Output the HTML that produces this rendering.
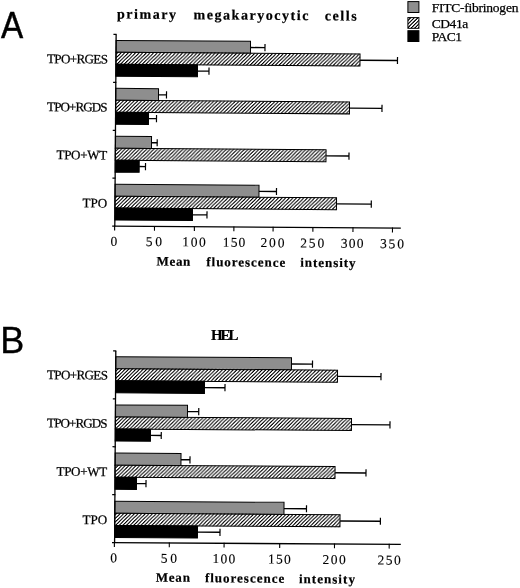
<!DOCTYPE html>
<html><head><meta charset="utf-8"><title>Figure</title>
<style>
html,body{margin:0;padding:0;background:#fff;}
svg{display:block;}
text{fill:#000;}
</style></head>
<body>
<svg width="520" height="588" viewBox="0 0 520 588">
<defs>
<pattern id="hatch" patternUnits="userSpaceOnUse" width="3.6" height="3.6">
<rect width="3.6" height="3.6" fill="#fff"/>
<path d="M-0.9 0.9L0.9 -0.9M0 3.6L3.6 0M2.7 4.5L4.5 2.7" stroke="#000" stroke-width="1.15"/>
</pattern>
<filter id="crisp" x="0" y="0" width="100%" height="100%" color-interpolation-filters="sRGB">
<feComponentTransfer><feFuncR type="linear" slope="2.1" intercept="-0.5"/><feFuncG type="linear" slope="2.1" intercept="-0.5"/><feFuncB type="linear" slope="2.1" intercept="-0.5"/></feComponentTransfer>
</filter>
</defs>
<rect width="520" height="588" fill="#fff"/>
<g transform="rotate(0.4 114.8 226.15)">
<path d="M249.24 46.58H263.74" stroke="#000" stroke-width="1.35" fill="none"/><path d="M263.74 42.98V50.18" stroke="#000" stroke-width="1.2" fill="none"/>
<rect x="114.80" y="40.40" width="134.44" height="11.95" fill="#8e8e8e" stroke="#000" stroke-width="1"/>
<path d="M358.82 58.52H396.32" stroke="#000" stroke-width="1.35" fill="none"/><path d="M396.32 54.92V62.12" stroke="#000" stroke-width="1.2" fill="none"/>
<rect x="114.80" y="52.35" width="244.02" height="11.95" fill="url(#hatch)" filter="url(#crisp)"/><rect x="114.80" y="52.35" width="244.02" height="11.95" fill="none" stroke="#000" stroke-width="1"/>
<path d="M196.41 70.48H207.91" stroke="#000" stroke-width="1.35" fill="none"/><path d="M207.91 66.88V74.08" stroke="#000" stroke-width="1.2" fill="none"/>
<rect x="114.80" y="64.30" width="81.61" height="11.95" fill="#000" stroke="#000" stroke-width="1"/>
<text x="45.76" y="63.58" font-family='"Liberation Serif", serif' font-size="13" font-weight="normal" text-anchor="start" stroke="#000" stroke-width="0.25" letter-spacing="-0.589">TPO+RGES</text>
<path d="M157.58 94.51H165.58" stroke="#000" stroke-width="1.35" fill="none"/><path d="M165.58 90.91V98.11" stroke="#000" stroke-width="1.2" fill="none"/>
<rect x="114.80" y="88.34" width="42.78" height="11.95" fill="#8e8e8e" stroke="#000" stroke-width="1"/>
<path d="M348.66 106.46H381.16" stroke="#000" stroke-width="1.35" fill="none"/><path d="M381.16 102.86V110.06" stroke="#000" stroke-width="1.2" fill="none"/>
<rect x="114.80" y="100.29" width="233.86" height="11.95" fill="url(#hatch)" filter="url(#crisp)"/><rect x="114.80" y="100.29" width="233.86" height="11.95" fill="none" stroke="#000" stroke-width="1"/>
<path d="M147.75 118.41H155.75" stroke="#000" stroke-width="1.35" fill="none"/><path d="M155.75 114.81V122.01" stroke="#000" stroke-width="1.2" fill="none"/>
<rect x="114.80" y="112.24" width="32.95" height="11.95" fill="#000" stroke="#000" stroke-width="1"/>
<text x="46.30" y="111.58" font-family='"Liberation Serif", serif' font-size="13" font-weight="normal" text-anchor="start" stroke="#000" stroke-width="0.25" letter-spacing="-0.883">TPO+RGDS</text>
<path d="M150.91 142.45H156.61" stroke="#000" stroke-width="1.35" fill="none"/><path d="M156.61 138.85V146.05" stroke="#000" stroke-width="1.2" fill="none"/>
<rect x="114.80" y="136.28" width="36.11" height="11.95" fill="#8e8e8e" stroke="#000" stroke-width="1"/>
<path d="M325.49 154.40H348.49" stroke="#000" stroke-width="1.35" fill="none"/><path d="M348.49 150.80V158.00" stroke="#000" stroke-width="1.2" fill="none"/>
<rect x="114.80" y="148.22" width="210.69" height="11.95" fill="url(#hatch)" filter="url(#crisp)"/><rect x="114.80" y="148.22" width="210.69" height="11.95" fill="none" stroke="#000" stroke-width="1"/>
<path d="M138.78 166.35H145.08" stroke="#000" stroke-width="1.35" fill="none"/><path d="M145.08 162.75V169.95" stroke="#000" stroke-width="1.2" fill="none"/>
<rect x="114.80" y="160.18" width="23.98" height="11.95" fill="#000" stroke="#000" stroke-width="1"/>
<text x="56.13" y="159.51" font-family='"Liberation Serif", serif' font-size="13" font-weight="normal" text-anchor="start" stroke="#000" stroke-width="0.25" letter-spacing="-0.322">TPO+WT</text>
<path d="M258.75 190.39H276.24" stroke="#000" stroke-width="1.35" fill="none"/><path d="M276.24 186.79V193.99" stroke="#000" stroke-width="1.2" fill="none"/>
<rect x="114.80" y="184.21" width="143.95" height="11.95" fill="#8e8e8e" stroke="#000" stroke-width="1"/>
<path d="M336.33 202.34H371.13" stroke="#000" stroke-width="1.35" fill="none"/><path d="M371.13 198.74V205.94" stroke="#000" stroke-width="1.2" fill="none"/>
<rect x="114.80" y="196.16" width="221.53" height="11.95" fill="url(#hatch)" filter="url(#crisp)"/><rect x="114.80" y="196.16" width="221.53" height="11.95" fill="none" stroke="#000" stroke-width="1"/>
<path d="M192.41 214.29H206.91" stroke="#000" stroke-width="1.35" fill="none"/><path d="M206.91 210.69V217.89" stroke="#000" stroke-width="1.2" fill="none"/>
<rect x="114.80" y="208.11" width="77.61" height="11.95" fill="#000" stroke="#000" stroke-width="1"/>
<text x="82.37" y="207.53" font-family='"Liberation Serif", serif' font-size="13" font-weight="normal" text-anchor="start" stroke="#000" stroke-width="0.25" letter-spacing="0.019">TPO</text>
<path d="M114.80 34.40V226.15" stroke="#000" stroke-width="1.3" fill="none"/>
<path d="M112.20 226.15H400.81" stroke="#000" stroke-width="1.3" fill="none"/>
<path d="M112.10 34.40H115.30" stroke="#000" stroke-width="1.25"/>
<path d="M112.10 82.34H115.30" stroke="#000" stroke-width="1.25"/>
<path d="M112.10 130.28H115.30" stroke="#000" stroke-width="1.25"/>
<path d="M112.10 178.21H115.30" stroke="#000" stroke-width="1.25"/>
<path d="M114.65 225.65V230.45" stroke="#000" stroke-width="1.1"/>
<text x="113.95" y="245.75" font-family='"Liberation Serif", serif' font-size="13.5" font-weight="normal" text-anchor="middle" stroke="#000" stroke-width="0.12">0</text>
<path d="M154.50 225.65V230.45" stroke="#000" stroke-width="1.1"/>
<text x="145.90" y="245.82" font-family='"Liberation Serif", serif' font-size="13.5" font-weight="normal" text-anchor="start" stroke="#000" stroke-width="0.12" letter-spacing="2.700">50</text>
<path d="M194.40 225.65V230.45" stroke="#000" stroke-width="1.1"/>
<text x="182.40" y="245.89" font-family='"Liberation Serif", serif' font-size="13.5" font-weight="normal" text-anchor="start" stroke="#000" stroke-width="0.12" letter-spacing="1.675">100</text>
<path d="M233.90 225.65V230.45" stroke="#000" stroke-width="1.1"/>
<text x="222.90" y="245.96" font-family='"Liberation Serif", serif' font-size="13.5" font-weight="normal" text-anchor="start" stroke="#000" stroke-width="0.12" letter-spacing="1.175">150</text>
<path d="M273.10 225.65V230.45" stroke="#000" stroke-width="1.1"/>
<text x="260.60" y="246.03" font-family='"Liberation Serif", serif' font-size="13.5" font-weight="normal" text-anchor="start" stroke="#000" stroke-width="0.12" letter-spacing="1.875">200</text>
<path d="M312.90 225.65V230.45" stroke="#000" stroke-width="1.1"/>
<text x="300.40" y="246.10" font-family='"Liberation Serif", serif' font-size="13.5" font-weight="normal" text-anchor="start" stroke="#000" stroke-width="0.12" letter-spacing="1.875">250</text>
<path d="M352.99 225.65V230.45" stroke="#000" stroke-width="1.1"/>
<text x="340.99" y="246.18" font-family='"Liberation Serif", serif' font-size="13.5" font-weight="normal" text-anchor="start" stroke="#000" stroke-width="0.12" letter-spacing="1.175">300</text>
<path d="M392.49 225.65V230.45" stroke="#000" stroke-width="1.1"/>
<text x="380.09" y="246.25" font-family='"Liberation Serif", serif' font-size="13.5" font-weight="normal" text-anchor="start" stroke="#000" stroke-width="0.12" letter-spacing="1.925">350</text>
<text x="156.77" y="265.31" font-family='"Liberation Serif", serif' font-size="13" font-weight="bold" text-anchor="start" stroke="#000" stroke-width="0.2" letter-spacing="0.673">Mean</text>
<text x="206.58" y="265.56" font-family='"Liberation Serif", serif' font-size="13" font-weight="bold" text-anchor="start" stroke="#000" stroke-width="0.2" letter-spacing="0.958">fluorescence</text>
<text x="300.48" y="265.50" font-family='"Liberation Serif", serif' font-size="13" font-weight="bold" text-anchor="start" stroke="#000" stroke-width="0.2" letter-spacing="0.966">intensity</text>

</g>
<g transform="rotate(0.36 114.6 542.6)">
<path d="M290.37 362.93H311.37" stroke="#000" stroke-width="1.35" fill="none"/><path d="M311.37 359.32V366.53" stroke="#000" stroke-width="1.2" fill="none"/>
<rect x="114.60" y="356.70" width="175.77" height="12.05" fill="#8e8e8e" stroke="#000" stroke-width="1"/>
<path d="M336.44 374.97H379.94" stroke="#000" stroke-width="1.35" fill="none"/><path d="M379.94 371.37V378.57" stroke="#000" stroke-width="1.2" fill="none"/>
<rect x="114.60" y="368.75" width="221.84" height="12.05" fill="url(#hatch)" filter="url(#crisp)"/><rect x="114.60" y="368.75" width="221.84" height="12.05" fill="none" stroke="#000" stroke-width="1"/>
<path d="M203.52 387.03H224.02" stroke="#000" stroke-width="1.35" fill="none"/><path d="M224.02 383.43V390.63" stroke="#000" stroke-width="1.2" fill="none"/>
<rect x="114.60" y="380.80" width="88.92" height="12.05" fill="#000" stroke="#000" stroke-width="1"/>
<text x="45.87" y="379.53" font-family='"Liberation Serif", serif' font-size="13" font-weight="normal" text-anchor="start" stroke="#000" stroke-width="0.25" letter-spacing="-0.589">TPO+RGES</text>
<path d="M186.67 411.12H197.92" stroke="#000" stroke-width="1.35" fill="none"/><path d="M197.92 407.52V414.72" stroke="#000" stroke-width="1.2" fill="none"/>
<rect x="114.60" y="404.90" width="72.07" height="12.05" fill="#8e8e8e" stroke="#000" stroke-width="1"/>
<path d="M350.74 423.18H389.24" stroke="#000" stroke-width="1.35" fill="none"/><path d="M389.24 419.57V426.78" stroke="#000" stroke-width="1.2" fill="none"/>
<rect x="114.60" y="416.95" width="236.14" height="12.05" fill="url(#hatch)" filter="url(#crisp)"/><rect x="114.60" y="416.95" width="236.14" height="12.05" fill="none" stroke="#000" stroke-width="1"/>
<path d="M149.82 435.22H160.57" stroke="#000" stroke-width="1.35" fill="none"/><path d="M160.57 431.62V438.82" stroke="#000" stroke-width="1.2" fill="none"/>
<rect x="114.60" y="429.00" width="35.22" height="12.05" fill="#000" stroke="#000" stroke-width="1"/>
<text x="46.38" y="427.73" font-family='"Liberation Serif", serif' font-size="13" font-weight="normal" text-anchor="start" stroke="#000" stroke-width="0.25" letter-spacing="-0.883">TPO+RGDS</text>
<path d="M180.47 459.32H189.47" stroke="#000" stroke-width="1.35" fill="none"/><path d="M189.47 455.72V462.93" stroke="#000" stroke-width="1.2" fill="none"/>
<rect x="114.60" y="453.10" width="65.87" height="12.05" fill="#8e8e8e" stroke="#000" stroke-width="1"/>
<path d="M334.55 471.38H365.55" stroke="#000" stroke-width="1.35" fill="none"/><path d="M365.55 467.78V474.98" stroke="#000" stroke-width="1.2" fill="none"/>
<rect x="114.60" y="465.15" width="219.95" height="12.05" fill="url(#hatch)" filter="url(#crisp)"/><rect x="114.60" y="465.15" width="219.95" height="12.05" fill="none" stroke="#000" stroke-width="1"/>
<path d="M136.13 483.43H145.63" stroke="#000" stroke-width="1.35" fill="none"/><path d="M145.63 479.82V487.03" stroke="#000" stroke-width="1.2" fill="none"/>
<rect x="114.60" y="477.20" width="21.53" height="12.05" fill="#000" stroke="#000" stroke-width="1"/>
<text x="56.18" y="476.07" font-family='"Liberation Serif", serif' font-size="13" font-weight="normal" text-anchor="start" stroke="#000" stroke-width="0.25" letter-spacing="-0.322">TPO+WT</text>
<path d="M283.78 507.53H306.27" stroke="#000" stroke-width="1.35" fill="none"/><path d="M306.27 503.93V511.13" stroke="#000" stroke-width="1.2" fill="none"/>
<rect x="114.60" y="501.30" width="169.18" height="12.05" fill="#8e8e8e" stroke="#000" stroke-width="1"/>
<path d="M339.85 519.58H380.25" stroke="#000" stroke-width="1.35" fill="none"/><path d="M380.25 515.98V523.18" stroke="#000" stroke-width="1.2" fill="none"/>
<rect x="114.60" y="513.35" width="225.25" height="12.05" fill="url(#hatch)" filter="url(#crisp)"/><rect x="114.60" y="513.35" width="225.25" height="12.05" fill="none" stroke="#000" stroke-width="1"/>
<path d="M197.43 531.62H219.93" stroke="#000" stroke-width="1.35" fill="none"/><path d="M219.93 528.02V535.23" stroke="#000" stroke-width="1.2" fill="none"/>
<rect x="114.60" y="525.40" width="82.83" height="12.05" fill="#000" stroke="#000" stroke-width="1"/>
<text x="82.38" y="524.10" font-family='"Liberation Serif", serif' font-size="13" font-weight="normal" text-anchor="start" stroke="#000" stroke-width="0.25" letter-spacing="0.019">TPO</text>
<path d="M114.60 350.90V542.60" stroke="#000" stroke-width="1.3" fill="none"/>
<path d="M112.00 542.60H400.81" stroke="#000" stroke-width="1.3" fill="none"/>
<path d="M111.90 350.90H115.10" stroke="#000" stroke-width="1.25"/>
<path d="M111.90 398.82H115.10" stroke="#000" stroke-width="1.25"/>
<path d="M111.90 446.75H115.10" stroke="#000" stroke-width="1.25"/>
<path d="M111.90 494.68H115.10" stroke="#000" stroke-width="1.25"/>
<path d="M114.40 542.10V546.90" stroke="#000" stroke-width="1.1"/>
<text x="113.70" y="562.30" font-family='"Liberation Serif", serif' font-size="13.5" font-weight="normal" text-anchor="middle" stroke="#000" stroke-width="0.12">0</text>
<path d="M169.30 542.10V546.90" stroke="#000" stroke-width="1.1"/>
<text x="161.00" y="562.40" font-family='"Liberation Serif", serif' font-size="13.5" font-weight="normal" text-anchor="start" stroke="#000" stroke-width="0.12" letter-spacing="2.600">50</text>
<path d="M224.10 542.10V546.90" stroke="#000" stroke-width="1.1"/>
<text x="212.70" y="562.50" font-family='"Liberation Serif", serif' font-size="13.5" font-weight="normal" text-anchor="start" stroke="#000" stroke-width="0.12" letter-spacing="1.225">100</text>
<path d="M279.70 542.10V546.90" stroke="#000" stroke-width="1.1"/>
<text x="268.20" y="562.59" font-family='"Liberation Serif", serif' font-size="13.5" font-weight="normal" text-anchor="start" stroke="#000" stroke-width="0.12" letter-spacing="1.275">150</text>
<path d="M334.50 542.10V546.90" stroke="#000" stroke-width="1.1"/>
<text x="322.60" y="562.69" font-family='"Liberation Serif", serif' font-size="13.5" font-weight="normal" text-anchor="start" stroke="#000" stroke-width="0.12" letter-spacing="1.475">200</text>
<path d="M389.19 542.10V546.90" stroke="#000" stroke-width="1.1"/>
<text x="377.59" y="562.79" font-family='"Liberation Serif", serif' font-size="13.5" font-weight="normal" text-anchor="start" stroke="#000" stroke-width="0.12" letter-spacing="1.475">250</text>
<text x="155.94" y="581.44" font-family='"Liberation Serif", serif' font-size="13" font-weight="bold" text-anchor="start" stroke="#000" stroke-width="0.2" letter-spacing="0.806">Mean</text>
<text x="205.15" y="581.73" font-family='"Liberation Serif", serif' font-size="13" font-weight="bold" text-anchor="start" stroke="#000" stroke-width="0.2" letter-spacing="0.995">fluorescence</text>
<text x="299.15" y="582.04" font-family='"Liberation Serif", serif' font-size="13" font-weight="bold" text-anchor="start" stroke="#000" stroke-width="0.2" letter-spacing="1.041">intensity</text>

</g>
<g transform="rotate(0.47 117.2 18.5)">
<text x="117.00" y="18.55" font-family='"Liberation Serif", serif' font-size="14" font-weight="bold" text-anchor="start" stroke="#000" stroke-width="0.2" letter-spacing="1.522">primary</text>
<text x="193.50" y="18.55" font-family='"Liberation Serif", serif' font-size="14" font-weight="bold" text-anchor="start" stroke="#000" stroke-width="0.2" letter-spacing="1.549">megakaryocytic</text>
<text x="324.70" y="18.55" font-family='"Liberation Serif", serif' font-size="14" font-weight="bold" text-anchor="start" stroke="#000" stroke-width="0.2" letter-spacing="1.586">cells</text>
</g>
<text x="210.90" y="340.20" font-family='"Liberation Serif", serif' font-size="15" font-weight="bold" text-anchor="start" stroke="#000" stroke-width="0.2" letter-spacing="-2.094">HEL</text>
<text transform="translate(0.90 37.85) scale(0.9 1)" font-family='"Liberation Sans", sans-serif' font-size="37" font-weight="normal" text-anchor="start" stroke="#000" stroke-width="0.45">A</text>
<text transform="translate(0.25 353.40) scale(0.99 1)" font-family='"Liberation Sans", sans-serif' font-size="36.5" font-weight="normal" text-anchor="start" stroke="#000" stroke-width="0.3">B</text>
<rect x="407.9" y="1.6" width="11" height="10.9" fill="#8e8e8e" stroke="#000" stroke-width="1"/>
<rect x="407.9" y="17.6" width="11" height="10.7" fill="url(#hatch)" filter="url(#crisp)"/><rect x="407.9" y="17.6" width="11" height="10.7" fill="none" stroke="#000" stroke-width="1"/>
<rect x="407.9" y="30.7" width="11" height="10.8" fill="#000" stroke="#000" stroke-width="1"/>
<text x="431.80" y="12.30" font-family='"Liberation Serif", serif' font-size="13.5" font-weight="normal" text-anchor="start" stroke="#000" stroke-width="0.25" letter-spacing="-0.243">FITC-fibrinogen</text>
<text x="431.80" y="28.10" font-family='"Liberation Serif", serif' font-size="13.5" font-weight="normal" text-anchor="start" stroke="#000" stroke-width="0.25" letter-spacing="-0.463">CD41a</text>
<text x="431.80" y="41.40" font-family='"Liberation Serif", serif' font-size="13.5" font-weight="normal" text-anchor="start" stroke="#000" stroke-width="0.25" letter-spacing="-0.527">PAC1</text>
</svg>
</body></html>
